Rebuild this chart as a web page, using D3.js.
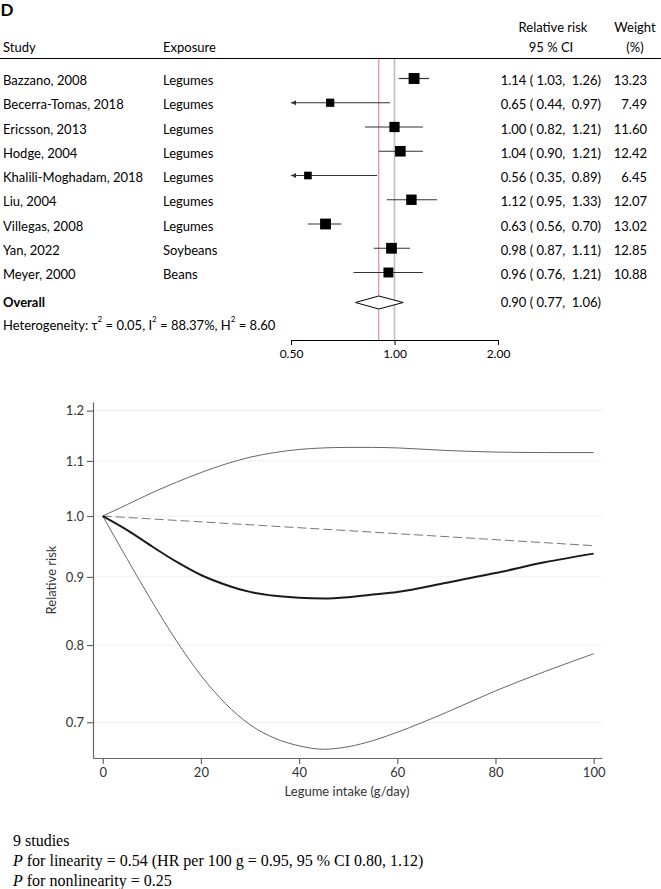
<!DOCTYPE html>
<html>
<head>
<meta charset="utf-8">
<script src="https://cdn.jsdelivr.net/npm/d3@7"></script>
<style>
  html, body { margin: 0; padding: 0; background: #fff; }
  svg { display: block; }
  text { white-space: pre; }
</style>
</head>
<body>
<svg id="chart" width="661" height="889"></svg>
<script>
// ---------- Forest plot data ----------
const studies = ["Bazzano, 2008", "Becerra-Tomas, 2018", "Ericsson, 2013", "Hodge, 2004",
  "Khalili-Moghadam, 2018", "Liu, 2004", "Villegas, 2008", "Yan, 2022", "Meyer, 2000"];
const exposures = ["Legumes", "Legumes", "Legumes", "Legumes", "Legumes", "Legumes", "Legumes", "Soybeans", "Beans"];
const rr = [1.14, 0.65, 1.00, 1.04, 0.56, 1.12, 0.63, 0.98, 0.96];
const ciLow = [1.03, 0.44, 0.82, 0.90, 0.35, 0.95, 0.56, 0.87, 0.76];
const ciHigh = [1.26, 0.97, 1.21, 1.21, 0.89, 1.33, 0.70, 1.11, 1.21];
const weights = [13.23, 7.49, 11.60, 12.42, 6.45, 12.07, 13.02, 12.85, 10.88];
const overallRR = [0.90, 0.77, 1.06]; // estimate, low, high
const forestTicks = [0.5, 1, 2];
const forestTickLabels = ["0.50", "1.00", "2.00"];

// ---------- Dose-response data ----------
const intake = [0, 5, 10, 15, 20, 25, 30, 35, 40, 45, 50, 55, 60, 70, 80, 90, 100];
const rrCurve = [1.0, 0.976, 0.949, 0.924, 0.903, 0.888, 0.877, 0.871, 0.868, 0.867, 0.869, 0.873, 0.877, 0.891, 0.906, 0.923, 0.937];
const rrUpper = [1.0, 1.020, 1.041, 1.060, 1.078, 1.094, 1.107, 1.116, 1.122, 1.125, 1.126, 1.126, 1.125, 1.120, 1.117, 1.116, 1.116];
const rrLower = [1.0, 0.928, 0.863, 0.806, 0.759, 0.723, 0.697, 0.681, 0.672, 0.668, 0.671, 0.678, 0.688, 0.712, 0.739, 0.764, 0.788];
const linIntake = [0, 50, 100];
const rrLinear = [1.0, 0.975, 0.95];
const yTicks = [0.7, 0.8, 0.9, 1.0, 1.1, 1.2];
const xTicks = [0, 20, 40, 60, 80, 100];

const svg = d3.select("#chart");
const sans = "Lato, 'Open Sans', sans-serif";

// ================= Forest plot =================
const fx = d3.scaleLog().domain([0.5, 2]).range([291, 498]);
const rowY = i => 78.5 + i * 24.25;
const textDy = 6.5;

svg.append("text").attr("x", 0.5).attr("y", 16).text("D")
  .attr("font-family", sans).attr("font-weight", "bold").attr("font-size", 17);

const hdr = svg.append("g").attr("font-family", sans).attr("font-size", 13).attr("fill", "#000");
hdr.append("text").attr("x", 3).attr("y", 52).text("Study");
hdr.append("text").attr("x", 163).attr("y", 52).text("Exposure");
hdr.append("text").attr("x", 553).attr("y", 32).attr("text-anchor", "middle").text("Relative risk");
hdr.append("text").attr("x", 551).attr("y", 52).attr("text-anchor", "middle").text("95 % CI");
hdr.append("text").attr("x", 635).attr("y", 32).attr("text-anchor", "middle").text("Weight");
hdr.append("text").attr("x", 635).attr("y", 52).attr("text-anchor", "middle").text("(%)");

svg.append("line").attr("x1", 0).attr("x2", 661).attr("y1", 58.5).attr("y2", 58.5)
  .attr("stroke", "#000").attr("stroke-width", 1.2);

// reference lines
svg.append("line").attr("x1", fx(1)).attr("x2", fx(1)).attr("y1", 59).attr("y2", 340)
  .attr("stroke", "#bdbdbd").attr("stroke-width", 1.6);
svg.append("line").attr("x1", fx(overallRR[0])).attr("x2", fx(overallRR[0])).attr("y1", 59).attr("y2", 340)
  .attr("stroke", "#e07682").attr("stroke-width", 1);

const rows = svg.append("g").attr("font-family", sans).attr("font-size", 13).attr("fill", "#000");
studies.forEach((s, i) => {
  const y = rowY(i);
  rows.append("text").attr("x", 3).attr("y", y + textDy).text(s);
  rows.append("text").attr("x", 163).attr("y", y + textDy).text(exposures[i]);
  rows.append("text").attr("x", 601).attr("y", y + textDy).attr("text-anchor", "end")
    .text(`${rr[i].toFixed(2)} ( ${ciLow[i].toFixed(2)},  ${ciHigh[i].toFixed(2)})`);
  rows.append("text").attr("x", 647).attr("y", y + textDy).attr("text-anchor", "end")
    .text(weights[i].toFixed(2));

  const lo = Math.max(ciLow[i], fx.domain()[0]);
  const hi = Math.min(ciHigh[i], fx.domain()[1]);
  svg.append("line").attr("x1", fx(lo)).attr("x2", fx(hi)).attr("y1", y).attr("y2", y)
    .attr("stroke", "#333").attr("stroke-width", 1.2);
  if (ciLow[i] < fx.domain()[0]) {
    const ax = fx(fx.domain()[0]);
    svg.append("path").attr("d", `M${ax},${y} L${ax + 5},${y - 2.5} L${ax + 5},${y + 2.5} Z`).attr("fill", "#333");
  }
  const side = 3.0 * Math.sqrt(weights[i]);
  svg.append("rect").attr("x", fx(rr[i]) - side / 2).attr("y", y - side / 2)
    .attr("width", side).attr("height", side).attr("fill", "#000");
});

// overall
const oy = 302.5;
rows.append("text").attr("x", 3).attr("y", oy + 4).attr("font-weight", "bold").text("Overall");
rows.append("text").attr("x", 601).attr("y", oy + 4).attr("text-anchor", "end")
  .text(`${overallRR[0].toFixed(2)} ( ${overallRR[1].toFixed(2)},  ${overallRR[2].toFixed(2)})`);
svg.append("path")
  .attr("d", `M${fx(overallRR[1])},${oy} L${fx(overallRR[0])},${oy - 6.5} L${fx(overallRR[2])},${oy} L${fx(overallRR[0])},${oy + 6.5} Z`)
  .attr("fill", "#fff").attr("stroke", "#000").attr("stroke-width", 1);

// heterogeneity
const het = rows.append("text").attr("x", 3).attr("y", 330);
het.append("tspan").text("Heterogeneity: τ");
het.append("tspan").attr("dy", -8).attr("font-size", 8).text("2");
het.append("tspan").attr("dy", 8).text(" = 0.05, I");
het.append("tspan").attr("dy", -8).attr("font-size", 8).text("2");
het.append("tspan").attr("dy", 8).text(" = 88.37%, H");
het.append("tspan").attr("dy", -8).attr("font-size", 8).text("2");
het.append("tspan").attr("dy", 8).text(" = 8.60");

// forest axis
const fAxis = svg.append("g").attr("transform", "translate(0,340)")
  .call(d3.axisBottom(fx).tickValues(forestTicks).tickFormat((d, i) => forestTickLabels[i]).tickSize(5).tickSizeOuter(0));
fAxis.select(".domain").attr("stroke", "#000");
fAxis.selectAll(".tick line").attr("stroke", "#000");
fAxis.selectAll(".tick text").attr("font-family", sans).attr("font-size", 12).attr("fill", "#000").attr("dy", "0.85em");

// ================= Dose-response plot =================
const x = d3.scaleLinear().domain([-1.98, 101.7]).range([93, 602]);
const y = d3.scaleLog().domain([0.658, 1.218]).range([758, 402]);

// gridlines
svg.append("g").selectAll("line").data(yTicks).join("line")
  .attr("x1", 94).attr("x2", 602).attr("y1", d => y(d)).attr("y2", d => y(d))
  .attr("stroke", "#efefef").attr("stroke-width", 1);

const yAxis = svg.append("g").attr("transform", "translate(93,0)")
  .call(d3.axisLeft(y).tickValues(yTicks).tickFormat(d3.format(".1f")).tickSize(6).tickSizeOuter(0));
const xAxis = svg.append("g").attr("transform", "translate(0,758)")
  .call(d3.axisBottom(x).tickValues(xTicks).tickFormat(d3.format("d")).tickSize(6).tickSizeOuter(0));
[yAxis, xAxis].forEach(a => {
  a.select(".domain").attr("stroke", "#666").attr("stroke-width", 1.2);
  a.selectAll(".tick line").attr("stroke", "#666").attr("stroke-width", 1.2);
  a.selectAll(".tick text").attr("font-family", sans).attr("font-size", 13).attr("fill", "#333");
});
yAxis.selectAll(".tick text").attr("x", -9);
xAxis.selectAll(".tick text").attr("y", 7).attr("dy", "0.9em");

svg.append("text").attr("transform", "translate(56,580) rotate(-90)").attr("text-anchor", "middle")
  .attr("font-family", sans).attr("font-size", 13).attr("fill", "#333").text("Relative risk");
svg.append("text").attr("x", 347).attr("y", 796).attr("text-anchor", "middle")
  .attr("font-family", sans).attr("font-size", 13).attr("fill", "#333").text("Legume intake (g/day)");

const line = d3.line().x(d => x(d[0])).y(d => y(d[1])).curve(d3.curveMonotoneX);
svg.append("path").datum(intake.map((v, i) => [v, rrUpper[i]])).attr("d", line)
  .attr("fill", "none").attr("stroke", "#666").attr("stroke-width", 1);
svg.append("path").datum(intake.map((v, i) => [v, rrLower[i]])).attr("d", line)
  .attr("fill", "none").attr("stroke", "#666").attr("stroke-width", 1);
svg.append("path").datum(linIntake.map((v, i) => [v, rrLinear[i]])).attr("d", d3.line().x(d => x(d[0])).y(d => y(d[1])))
  .attr("fill", "none").attr("stroke", "#777").attr("stroke-width", 1).attr("stroke-dasharray", "9,4");
svg.append("path").datum(intake.map((v, i) => [v, rrCurve[i]])).attr("d", line)
  .attr("fill", "none").attr("stroke", "#1a1a1a").attr("stroke-width", 2);

// ================= Footnote =================
const serif = "'Liberation Serif', 'Times New Roman', serif";
const foot = svg.append("g").attr("font-family", serif).attr("font-size", 16).attr("fill", "#000");
foot.append("text").attr("x", 13).attr("y", 846).text("9 studies");
const l2 = foot.append("text").attr("x", 13).attr("y", 866);
l2.append("tspan").attr("font-style", "italic").text("P");
l2.append("tspan").text(" for linearity = 0.54 (HR per 100 g = 0.95, 95 % CI 0.80, 1.12)");
const l3 = foot.append("text").attr("x", 13).attr("y", 886);
l3.append("tspan").attr("font-style", "italic").text("P");
l3.append("tspan").text(" for nonlinearity = 0.25");
</script>
</body>
</html>
